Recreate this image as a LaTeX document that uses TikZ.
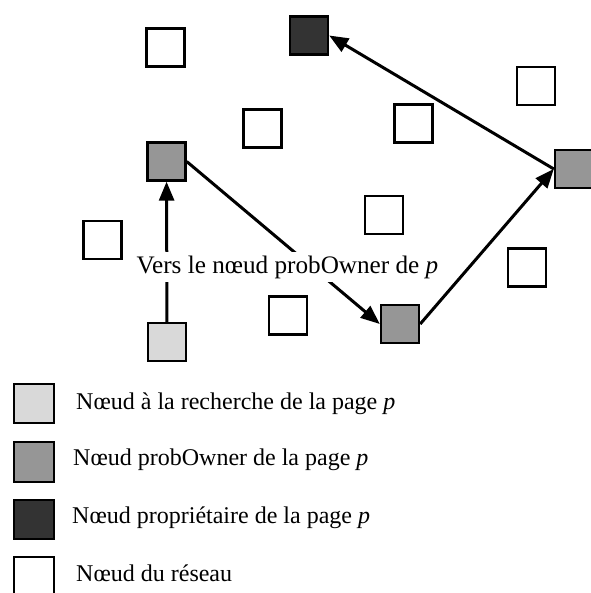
\documentclass[tikz,border=0pt]{standalone}
\usepackage{fontspec}
\setmainfont{Liberation Serif}
\usetikzlibrary{arrows.meta, positioning}

\definecolor{seeker}{gray}{0.85}
\definecolor{probowner}{gray}{0.59}
\definecolor{owner}{gray}{0.2}

\begin{document}
\begin{tikzpicture}[
    x=1pt, y=-1pt,
    site/.style={rectangle, draw, line width=2.4pt, minimum size=38pt, inner sep=0pt, fill=white},
    keybox/.style={site, minimum size=39.5pt},
    arrow/.style={-{Triangle[length=19pt, width=15pt]}, line width=3pt},
    legend/.style={anchor=base west, inner sep=0pt, font=\fontsize{24}{28}\selectfont}
]
\useasboundingbox (0,0) rectangle (590,593);

% noeuds du reseau
\node[site] (w1) at (165.5,47.5) {};
\node[site] (w2) at (536,86) {};
\node[site] (w3) at (262.5,128.5) {};
\node[site] (w4) at (413.5,123.5) {};
\node[site] (w5) at (384,215) {};
\node[site] (w6) at (102.5,240) {};
\node[site] (w7) at (527,267.5) {};
\node[site] (w8) at (288,315.5) {};

\node[site, fill=owner] (owner) at (309,35.5) {};
\node[site, fill=probowner] (po1) at (166.5,161.5) {};
\node[site, fill=probowner] (po2) at (400,324) {};
\node[site, fill=probowner] (po3) at (574,169) {};
\node[site, fill=seeker] (seeker) at (167,342) {};

\draw[arrow] (seeker) -- (po1);
\draw[arrow] (po1.east) -- (po2.west);
\draw[arrow] (po2.east) -- (po3.west);
\draw[arrow] (po3.west) -- (owner.east);

\node[fill=white, inner xsep=3pt, inner ysep=4pt, anchor=base, font=\fontsize{25.2}{30}\selectfont] (lbl) at (287.5,273) {Vers le nœud probOwner de \textit{p}};

% legende
\node[keybox, fill=seeker] (k1) at (34,403.5) {};
\node[keybox, fill=probowner] (k2) at (34,462) {};
\node[keybox, fill=owner] (k3) at (34,519.5) {};
\node[keybox] (k4) at (34,577) {};

\node[legend] (t1) at (76,409.3) {Nœud à la recherche de la page \textit{p}};
\node[legend] (t2) at (73,465) {Nœud probOwner de la page \textit{p}};
\node[legend] (t3) at (72,523.3) {Nœud propriétaire de la page \textit{p}};
\node[legend] (t4) at (76,581.7) {Nœud du réseau};

\end{tikzpicture}
\end{document}
